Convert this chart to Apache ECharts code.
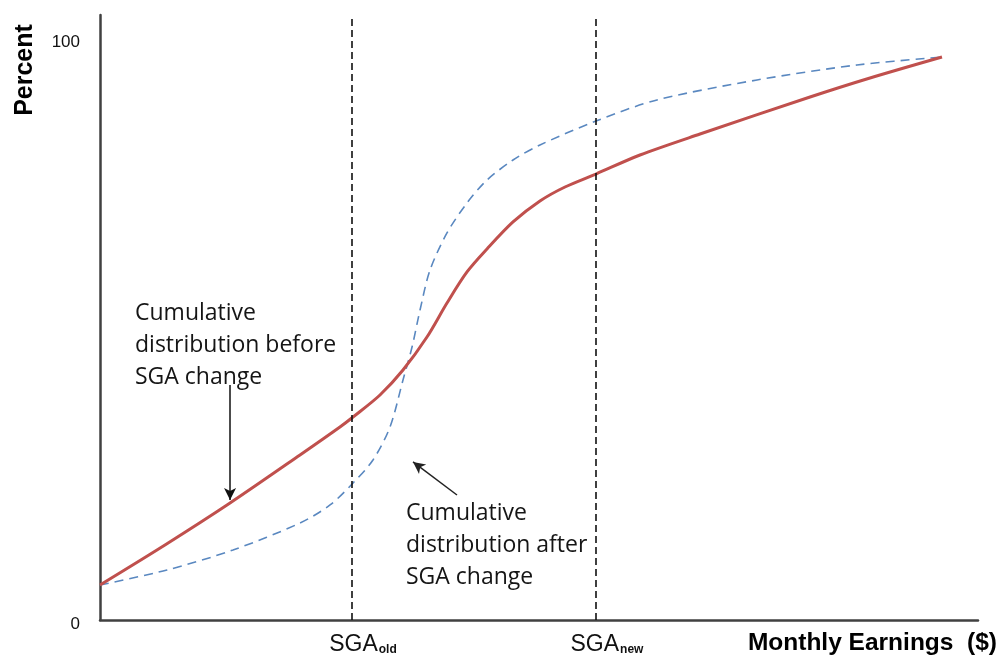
<!DOCTYPE html>
<html>
<head>
<meta charset="utf-8">
<script src="https://cdn.jsdelivr.net/npm/echarts@6/dist/echarts.min.js"></script>
<style>html,body{margin:0;padding:0;background:#fff}#c{width:1000px;height:660px}</style>
</head>
<body>
<div id="c"></div>
<script>
// Monthly earnings (scaled 0-100) and cumulative percent
const earningsBefore = [0, 7.40, 14.81, 22.78, 27.33, 28.82, 31.89, 34.51, 37.24, 39.52, 41.80, 44.08, 47.04, 50.11, 52.96, 56.49, 61.50, 68.34, 80.87, 87.70, 95.90];
const percentBefore  = [6.06, 12.98, 20.24, 28.55, 33.39, 35.12, 38.93, 43.25, 48.96, 54.84, 60.21, 64.19, 68.86, 72.49, 74.91, 77.16, 80.45, 84.08, 90.48, 93.77, 97.40];
const earningsAfter  = [0, 7.63, 15.15, 22.78, 26.20, 28.82, 31.09, 33.03, 34.51, 35.54, 36.45, 37.59, 39.52, 41.80, 44.08, 47.04, 50.11, 56.49, 63.44, 74.83, 86.22, 95.90];
const percentAfter   = [6.06, 8.65, 12.11, 16.78, 19.90, 23.70, 27.68, 33.39, 41.52, 47.23, 53.63, 60.55, 66.96, 72.15, 76.12, 79.58, 82.18, 86.33, 89.97, 93.43, 96.02, 97.40];
const sgaValues = [28.70, 56.49];
const sgaLabels = ['old', 'new'];
const yTickValues = [0, 100];

const zip = (xs, ys) => xs.map((x, i) => [x, ys[i]]);

const chart = echarts.init(document.getElementById('c'), null, {renderer: 'canvas'});
chart.setOption({
  animation: false,
  backgroundColor: '#fff',
  grid: {left: 100, right: 22, top: 15, bottom: 40},
  xAxis: {
    type: 'value', min: 0, max: 100,
    axisLine: {show: true, lineStyle: {color: '#404040', width: 2.5}},
    axisTick: {show: false},
    splitLine: {show: false},
    axisLabel: {
      customValues: sgaValues,
      margin: 13,
      formatter: function (v) {
        const i = sgaValues.indexOf(v);
        return '{a|SGA}{s|' + (i >= 0 ? sgaLabels[i] : '') + '}';
      },
      rich: {
        a: {fontFamily: 'Liberation Sans', fontSize: 23, color: '#111', padding: [0, 0, 0, 22]},
        s: {fontFamily: 'Liberation Sans', fontSize: 12, fontWeight: 'bold', color: '#111', padding: [11, 0, 0, 1]}
      }
    }
  },
  yAxis: {
    type: 'value', min: 0, max: 104.67,
    axisLine: {show: true, lineStyle: {color: '#404040', width: 2.5}},
    axisTick: {show: false},
    splitLine: {show: false},
    axisLabel: {
      customValues: yTickValues,
      margin: 20,
      fontFamily: 'Liberation Sans', fontSize: 17, color: '#111',
      formatter: function (v) { return v === 0 ? '{z|0}' : String(v); },
      rich: {z: {fontFamily: 'Liberation Sans', fontSize: 17, color: '#111', padding: [8, 0, 0, 0]}}
    }
  },
  series: [
    {
      type: 'line', name: 'after', data: zip(earningsAfter, percentAfter),
      smooth: 0.3, showSymbol: false, z: 2,
      lineStyle: {color: '#5a88c0', width: 1.6, type: [9, 6]}
    },
    {
      type: 'line', name: 'before', data: zip(earningsBefore, percentBefore),
      smooth: 0.3, showSymbol: false, z: 3,
      lineStyle: {color: '#c0504d', width: 3},
      markLine: {
        silent: true,
        symbol: 'none',
        label: {show: false},
        data: [
          {xAxis: sgaValues[0], lineStyle: {color: '#111', width: 1.6, type: [7, 4]}},
          {xAxis: sgaValues[1], lineStyle: {color: '#111', width: 1.6, type: [7, 4]}},
          [
            {coord: [14.81, 40.66], symbol: 'none', lineStyle: {color: '#111', width: 1.5, type: 'solid'}},
            {coord: [14.81, 20.76], symbol: 'arrow', symbolSize: [9, 12]}
          ],
          [
            {coord: [40.66, 21.63], symbol: 'none', lineStyle: {color: '#222', width: 1.5, type: 'solid'}},
            {coord: [35.65, 27.34], symbol: 'arrow', symbolSize: [9, 12]}
          ]
        ]
      }
    }
  ],
  graphic: [
    {type: 'text', left: 135, top: 297, style: {text: 'Cumulative\ndistribution before\nSGA change', fontFamily: 'Open Sans', fontSize: 23, lineHeight: 32, fill: '#151515'}},
    {type: 'text', left: 406, top: 497, style: {text: 'Cumulative\ndistribution after\nSGA change', fontFamily: 'Open Sans', fontSize: 23, lineHeight: 32, fill: '#151515'}},
    {type: 'text', x: 25, y: 70, rotation: Math.PI / 2, style: {text: 'Percent', fontFamily: 'Liberation Sans', fontWeight: 'bold', fontSize: 25, fill: '#000', align: 'center', verticalAlign: 'middle'}},
    {type: 'text', x: 997, y: 643, style: {text: 'Monthly Earnings  ($)', fontFamily: 'Liberation Sans', fontWeight: 'bold', fontSize: 24.5, fill: '#000', align: 'right', verticalAlign: 'middle'}}
  ]
});
</script>
</body>
</html>
